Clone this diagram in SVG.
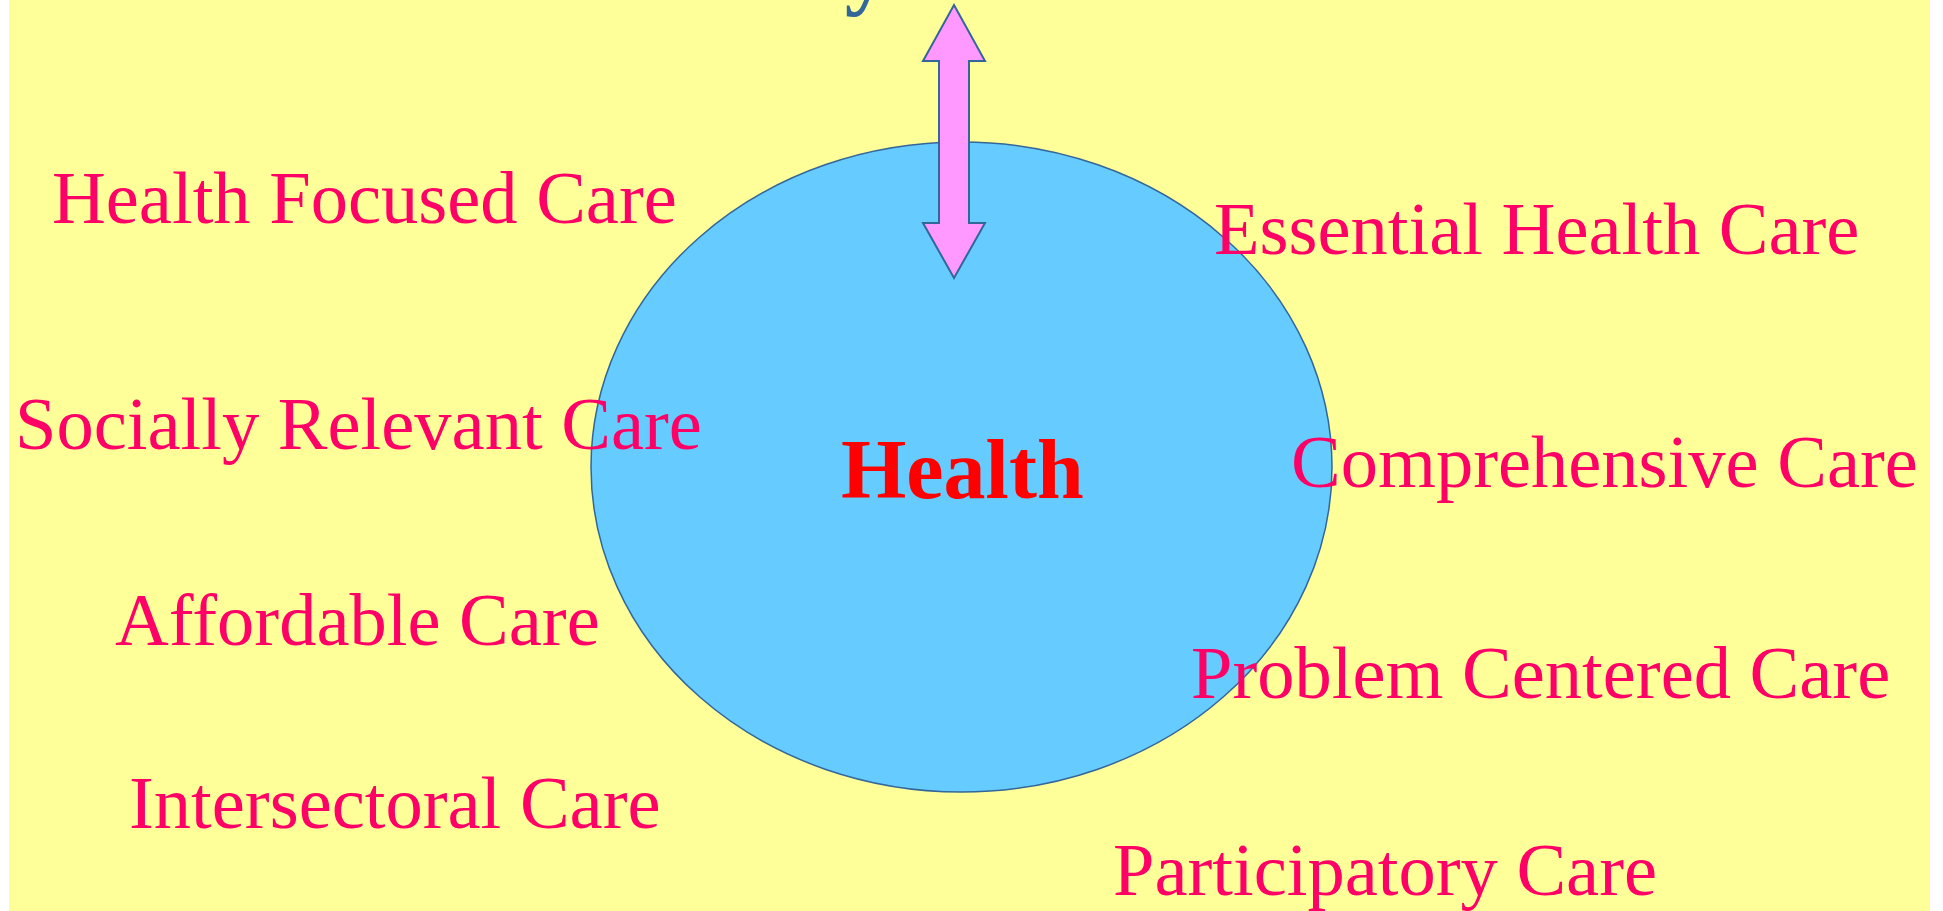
<svg xmlns="http://www.w3.org/2000/svg" width="1943" height="911" viewBox="0 0 1943 911">
<style>
.lbl{font-family:"Liberation Serif","Times New Roman",serif;font-size:74.5px;fill:#FF0066}
.ttl{font-family:"Liberation Serif","Times New Roman",serif;font-size:88px;font-weight:bold;fill:#336699}
.ctr{font-family:"Liberation Serif","Times New Roman",serif;font-size:84px;font-weight:bold;fill:#FF0000}
</style>
<rect x="0" y="0" width="1943" height="911" fill="#FFFFFF"/>
<rect x="9" y="0" width="1921" height="911" fill="#FFFF99"/>
<text class="ttl" x="571" y="-2">Primary Health Care</text>
<g id="health">
<ellipse cx="961.5" cy="467" rx="370.5" ry="325" fill="#66CCFF" stroke="#336699" stroke-width="1.5"/>
<text class="ctr" x="841" y="498">Health</text>
</g>
<g id="connectors">
<polygon points="954,5 985,61 969,61 969,223 985,223 954,278 923,223 939,223 939,61 923,61" fill="#FF99FF" stroke="#336699" stroke-width="2" stroke-linejoin="miter"/>
</g>
<g id="health-focused"><text class="lbl" x="52" y="223">Health Focused Care</text></g>
<g id="essential"><text class="lbl" x="1214" y="254">Essential Health Care</text></g>
<g id="socially"><text class="lbl" x="15" y="449">Socially Relevant Care</text></g>
<g id="comprehensive"><text class="lbl" x="1291" y="487">Comprehensive Care</text></g>
<g id="affordable"><text class="lbl" x="115" y="645">Affordable Care</text></g>
<g id="problem"><text class="lbl" x="1191" y="698">Problem Centered Care</text></g>
<g id="intersectoral"><text class="lbl" x="129" y="828">Intersectoral Care</text></g>
<g id="participatory"><text class="lbl" x="1113" y="895">Participatory Care</text></g>
</svg>
